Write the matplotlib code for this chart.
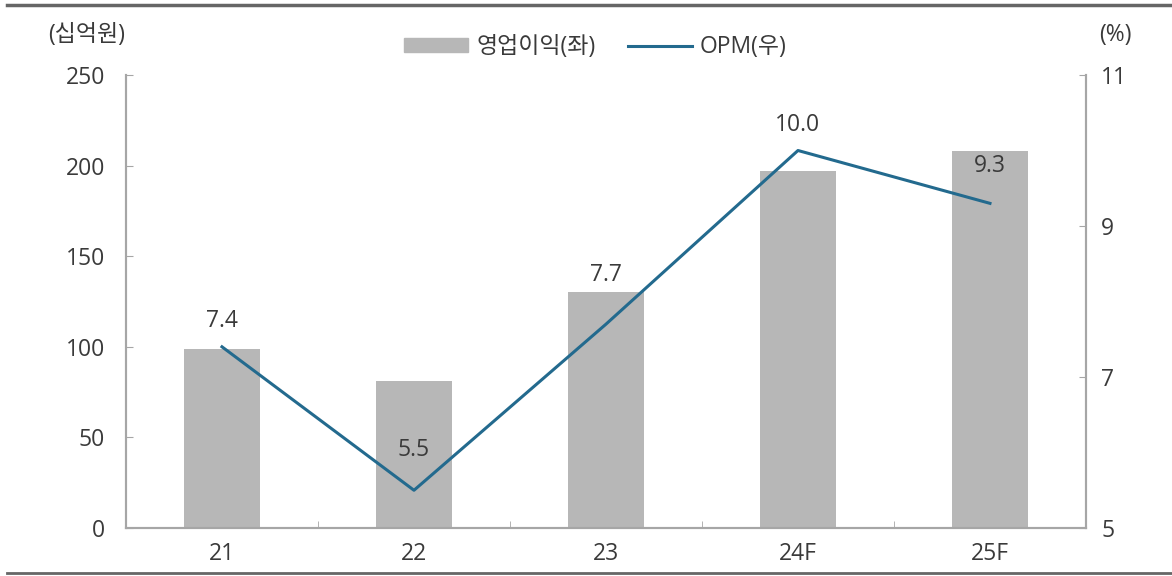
import numpy as np
import matplotlib.pyplot as plt
from matplotlib.lines import Line2D
from matplotlib.patches import Patch

plt.rcParams['font.family'] = ['Open Sans', 'Noto Sans CJK KR', 'DejaVu Sans']

# 영업이익 및 OPM 데이터
Years = ['21', '22', '23', '24F', '25F']
OpProfit = [99, 81, 130, 197, 208]
OPM = [7.4, 5.5, 7.7, 10.0, 9.3]

BarColor = '#b7b7b7'
LineColor = '#236a8e'
SpineColor = '#a6a6a6'
TextColor = '#3a3a3a'
FontSize = 16.5

fig = plt.figure(figsize=(11.72, 5.76), dpi=100)
ax = fig.add_axes([0.1075, 0.0833, 0.8191, 0.7865])
ax2 = ax.twinx()

x = np.arange(len(Years))
ax.bar(x, OpProfit, width=0.4, color=BarColor, zorder=1)
ax2.plot(x, OPM, color=LineColor, linewidth=2.2, zorder=3)

# 라벨 위치 (막대와 겹치지 않도록 개별 오프셋)
LabelOffsets = [10, 20, 27, 10, 18]
for xi, v, dy in zip(x, OPM, LabelOffsets):
    ax2.annotate(f'{v:.1f}', xy=(xi, v), xytext=(0, dy), textcoords='offset points',
                 ha='center', va='bottom', fontsize=FontSize, color=TextColor)

ax.set_xlim(-0.5, len(Years) - 0.5)
ax.set_ylim(0, 250)
ax2.set_ylim(5, 11)
ax.set_yticks(np.arange(0, 251, 50))
ax2.set_yticks([5, 7, 9, 11])

ax.set_xticks(x)
ax.set_xticklabels(Years)
ax.set_xticks(np.arange(-0.5, len(Years)), minor=True)
ax.tick_params(axis='x', which='major', length=0, pad=10, labelsize=FontSize, labelcolor=TextColor)
ax.tick_params(axis='x', which='minor', direction='in', length=5, color=SpineColor)
ax.tick_params(axis='y', direction='in', length=5, color=SpineColor, pad=15,
               labelsize=FontSize, labelcolor=TextColor)
ax2.tick_params(axis='y', direction='in', length=5, color=SpineColor, pad=11,
                labelsize=FontSize, labelcolor=TextColor)

for a in (ax, ax2):
    a.spines['top'].set_visible(False)
    for s in ('left', 'right', 'bottom'):
        a.spines[s].set_color(SpineColor)
        a.spines[s].set_linewidth(1.5)

fig.text(0.041, 0.94, '(십억원)', fontsize=FontSize, color=TextColor, va='center')
fig.text(0.938, 0.94, '(%)', fontsize=FontSize, color=TextColor, va='center')

Handles = [Patch(color=BarColor), Line2D([0], [0], color=LineColor, linewidth=2.2)]
fig.legend(Handles, ['영업이익(좌)', 'OPM(우)'], loc='center', bbox_to_anchor=(0.508, 0.918),
           ncol=2, frameon=False, fontsize=FontSize, handlelength=2.8, handleheight=0.6,
           handletextpad=0.35, columnspacing=1.4, labelcolor=TextColor)

# 상하단 구분선
fig.add_artist(Line2D([0.006, 1], [0.992, 0.992], color='#666666', linewidth=2.5))
fig.add_artist(Line2D([0.006, 1], [0.006, 0.006], color='#666666', linewidth=2.0))

fig.savefig('out.png', dpi=100)
